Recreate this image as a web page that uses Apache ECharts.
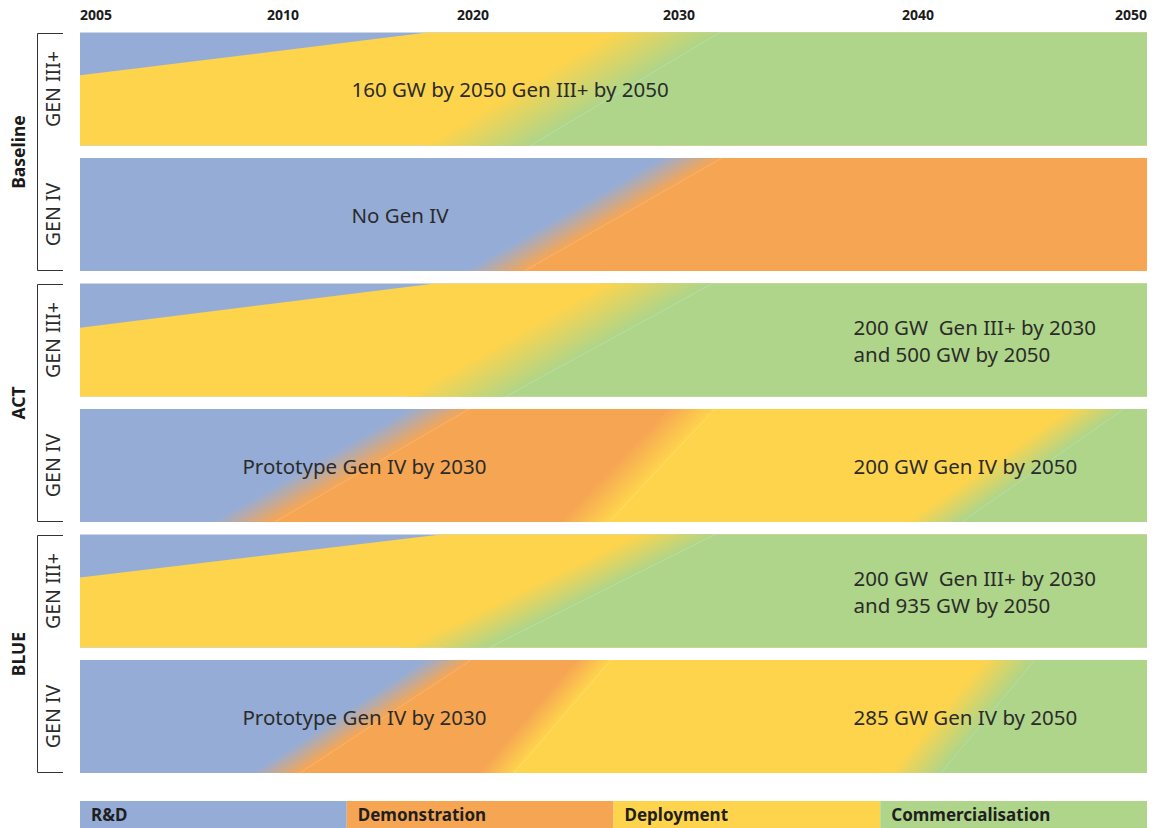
<!DOCTYPE html>
<html>
<head>
<meta charset="utf-8">
<script src="https://cdn.jsdelivr.net/npm/echarts@6/dist/echarts.min.js"></script>
<style>
html,body{margin:0;padding:0;background:#ffffff;}
#chart{width:1154px;height:828px;}
</style>
</head>
<body>
<div id="chart"></div>
<script>
// ------------------------------------------------------------------ data
const tickYears = [2005, 2010, 2020, 2030, 2040, 2050];
const scenarios = ['Baseline', 'ACT', 'BLUE'];
const rowLabels = ['GEN III+', 'GEN IV', 'GEN III+', 'GEN IV', 'GEN III+', 'GEN IV'];
const phases = ['R&D', 'Demonstration', 'Deployment', 'Commercialisation'];
const legendShare = [1, 1, 1, 1];
// phases each row passes through (indices into phases)
const rowPhases = [[0, 2, 3], [0, 1], [0, 2, 3], [0, 1, 2, 3], [0, 2, 3], [0, 1, 2, 3]];
// transitions: [start year at bottom edge, end year at bottom edge, start year at top edge, end year at top edge]
const baselineGen3 = [[1991.0, 1991.0, 2017.6, 2017.6], [2017.5, 2022.8, 2026.7, 2031.7]];
const baselineGen4 = [[2019.6, 2022.5, 2029.1, 2031.8]];
const actGen3 = [[1991.4, 1991.4, 2018.0, 2018.0], [2016.7, 2021.6, 2026.2, 2031.4]];
const actGen4 = [[2008.2, 2009.8, 2016.7, 2019.8], [2024.2, 2026.6, 2029.5, 2031.5], [2039.5, 2041.9, 2046.6, 2049.0]];
const blueGen3 = [[1990.5, 1990.5, 2018.3, 2018.3], [2016.2, 2020.8, 2028.1, 2031.5]];
const blueGen4 = [[2009.2, 2010.9, 2017.5, 2019.9], [2020.3, 2022.0, 2025.0, 2026.7], [2038.8, 2041.0, 2042.9, 2045.1]];
const rowTransitions = [baselineGen3, baselineGen4, actGen3, actGen4, blueGen3, blueGen4];
// annotations: row, anchor year, text
const noteRows = [0, 1, 2, 3, 3, 4, 5, 5];
const noteYears = [2013.6, 2013.6, 2037.3, 2009.0, 2037.3, 2037.3, 2009.0, 2037.3];
const noteTexts = [
  '160 GW by 2050 Gen III+ by 2050',
  'No Gen IV',
  '200 GW  Gen III+ by 2030\nand 500 GW by 2050',
  'Prototype Gen IV by 2030',
  '200 GW Gen IV by 2050',
  '200 GW  Gen III+ by 2030\nand 935 GW by 2050',
  'Prototype Gen IV by 2030',
  '285 GW Gen IV by 2050'
];

// ------------------------------------------------------------------ layout / style
// where each tick year sits along the (non-uniform) timeline, as a fraction of its width
const axisStops = [0, 0.1903, 0.3683, 0.5614, 0.7854, 1];
const phaseColors = ['#95ADD6', '#F6A653', '#FED44C', '#AED589'];
const FONT = '"Noto Sans", "DejaVu Sans", sans-serif';

function yearToAxis(y) {
  const n = tickYears.length;
  let i = 0;
  if (y >= tickYears[n - 1]) i = n - 2;
  else if (y > tickYears[0]) { while (y >= tickYears[i + 1]) i++; }
  return axisStops[i] + (y - tickYears[i]) / (tickYears[i + 1] - tickYears[i]) * (axisStops[i + 1] - axisStops[i]);
}
function nearestStop(v) {
  let best = 0;
  axisStops.forEach((s, i) => { if (Math.abs(s - v) < Math.abs(axisStops[best] - v)) best = i; });
  return best;
}

function poly(points, fill) {
  return { type: 'polygon', shape: { points: points }, style: { fill: fill, stroke: null } };
}

function renderRow(params, api) {
  const row = api.value(1);
  const c = api.coord([0, row]);
  const band = api.size([0, 1])[1] * 0.9;
  const top = c[1] - band / 2, bottom = c[1] + band / 2, mid = c[1];
  const px = y => api.coord([yearToAxis(y), row])[0];
  const ph = rowPhases[row], tr = rowTransitions[row];
  const L = -4000, R = 6000;
  const children = [];
  children.push(poly([[L, top], [R, top], [R, bottom], [L, bottom]], phaseColors[ph[0]]));
  const geo = tr.map(t => ({ sB: px(t[0]), eB: px(t[1]), sT: px(t[2]), eT: px(t[3]) }));
  geo.forEach((g, k) => {
    const cB = (g.sB + g.eB) / 2, cT = (g.sT + g.eT) / 2;
    children.push(poly([[cT, top], [R, top], [R, bottom], [cB, bottom]], phaseColors[ph[k + 1]]));
  });
  geo.forEach((g, k) => {
    if (Math.abs(g.eB - g.sB) < 0.5 && Math.abs(g.eT - g.sT) < 0.5) return;
    const cB = (g.sB + g.eB) / 2, cT = (g.sT + g.eT) / 2;
    const a = cT - cB, hh = bottom - top, len = Math.hypot(a, hh);
    const nx = hh / len, ny = a / len;
    const smx = (g.sB + g.sT) / 2, emx = (g.eB + g.eT) / 2;
    const d = (emx - smx) * nx;
    const grad = new echarts.graphic.LinearGradient(smx, mid, smx + nx * d, mid + ny * d,
      [{ offset: 0, color: phaseColors[ph[k]] }, { offset: 1, color: phaseColors[ph[k + 1]] }], true);
    children.push({ type: 'polygon', shape: { points: [[g.sT, top], [g.eT, top], [g.eB, bottom], [g.sB, bottom]] },
      style: { fill: grad, stroke: null } });
    children.push({ type: 'line', shape: { x1: g.eB, y1: bottom, x2: g.eT, y2: top },
      style: { stroke: 'rgba(255,255,255,0.22)', lineWidth: 0.8 } });
  });
  return { type: 'group', children: children };
}

function renderNote(params, api) {
  const i = params.dataIndex;
  const p = api.coord([api.value(0), api.value(1)]);
  return { type: 'text', x: p[0], y: p[1],
    style: { text: noteTexts[i], fill: '#2b2b2b', font: '20.5px ' + FONT, align: 'left', verticalAlign: 'middle', lineHeight: 27 } };
}

function renderScenario(params, api) {
  const i = params.dataIndex;
  const band = api.size([0, 1])[1] * 0.9;
  const c0 = api.coord([0, 2 * i]), c1 = api.coord([0, 2 * i + 1]);
  const top = Math.round(c0[1] - band / 2) + 0.5, bottom = Math.round(c1[1] + band / 2) - 0.5;
  const gx = c0[0];
  const xV = Math.round(gx - 43) + 0.5, xH = gx - 17;
  return { type: 'group', children: [
    { type: 'polyline', shape: { points: [[xH, top], [xV, top], [xV, bottom], [xH, bottom]] },
      style: { stroke: '#333333', lineWidth: 1, fill: null } },
    { type: 'text', x: gx - 62, y: (top + bottom) / 2, rotation: Math.PI / 2,
      style: { text: scenarios[i], fill: '#1a1a1a', font: 'bold 17.5px ' + FONT, align: 'center', verticalAlign: 'middle' } },
    { type: 'text', x: gx - 28, y: c0[1], rotation: Math.PI / 2,
      style: { text: rowLabels[2 * i], fill: '#2b2b2b', font: '19.5px ' + FONT, align: 'center', verticalAlign: 'middle' } },
    { type: 'text', x: gx - 28, y: c1[1], rotation: Math.PI / 2,
      style: { text: rowLabels[2 * i + 1], fill: '#2b2b2b', font: '19.5px ' + FONT, align: 'center', verticalAlign: 'middle' } }
  ] };
}

const chart = echarts.init(document.getElementById('chart'), null, { renderer: 'svg' });
const option = {
  animation: false,
  backgroundColor: '#ffffff',
  grid: [
    { left: 80, right: 7, top: 26.25, height: 753 },
    { left: 80, right: 7, top: 801, height: 27 }
  ],
  xAxis: [
    { type: 'value', gridIndex: 0, min: 0, max: 1, position: 'top',
      axisLine: { show: false }, axisTick: { show: false }, splitLine: { show: false },
      axisLabel: { customValues: axisStops, formatter: v => String(tickYears[nearestStop(v)]),
        alignMinLabel: 'left', alignMaxLabel: 'right', margin: 5,
        fontSize: 14, fontWeight: 'bold', color: '#1a1a1a', fontFamily: FONT } },
    { type: 'value', gridIndex: 1, min: 0, max: 4, show: false }
  ],
  yAxis: [
    { type: 'category', gridIndex: 0, data: rowLabels, inverse: true, show: false },
    { type: 'category', gridIndex: 1, data: ['phase'], show: false }
  ],
  series: [
    { type: 'custom', xAxisIndex: 0, yAxisIndex: 0, clip: true, silent: true,
      data: rowLabels.map((_, i) => [0, i]), encode: { x: 0, y: 1 }, renderItem: renderRow },
    { type: 'custom', xAxisIndex: 0, yAxisIndex: 0, clip: false, silent: true, z: 5,
      data: noteTexts.map((_, i) => [yearToAxis(noteYears[i]), noteRows[i]]), encode: { x: 0, y: 1 }, renderItem: renderNote },
    { type: 'custom', xAxisIndex: 0, yAxisIndex: 0, clip: false, silent: true,
      data: scenarios.map((_, i) => [0, 2 * i]), encode: { x: 0, y: 1 }, renderItem: renderScenario }
  ].concat(phases.map((p, i) => ({
    type: 'bar', name: p, xAxisIndex: 1, yAxisIndex: 1, stack: 'legend', silent: true,
    data: [legendShare[i]], barWidth: '100%',
    itemStyle: { color: phaseColors[i] },
    label: { show: true, position: 'insideLeft', distance: 11, formatter: '{a}',
      color: '#1f1f1f', fontSize: 17, fontWeight: 'bold', fontFamily: FONT }
  })))
};
chart.setOption(option);
</script>
</body>
</html>
